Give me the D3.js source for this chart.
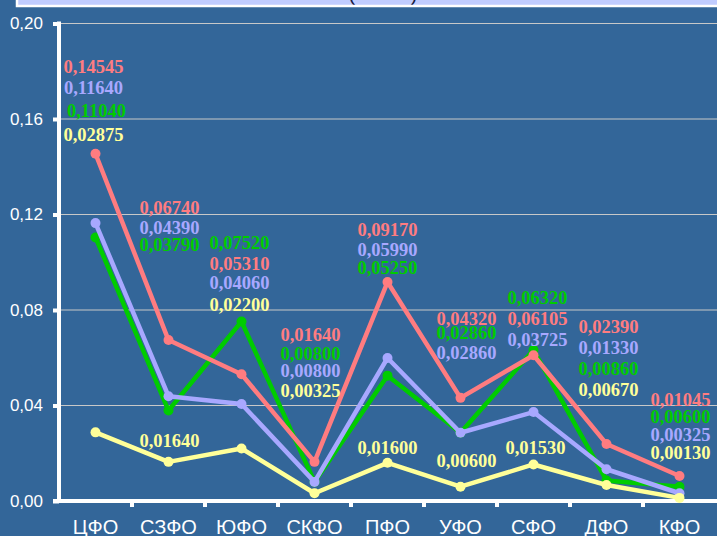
<!DOCTYPE html>
<html>
<head>
<meta charset="utf-8">
<script src="https://cdn.jsdelivr.net/npm/d3@7"></script>
<style>
  html, body { margin: 0; padding: 0; background: #336699; }
  svg { display: block; }
</style>
</head>
<body>
<svg id="chart" width="717" height="536"></svg>
<script>
// Federal districts
const categories = ["ЦФО", "СЗФО", "ЮФО", "СКФО", "ПФО", "УФО", "СФО", "ДФО", "КФО"];

// Series values
const redValues      = [0.14545, 0.06740, 0.05310, 0.01640, 0.09170, 0.04320, 0.06105, 0.02390, 0.01045];
const lavenderValues = [0.11640, 0.04390, 0.04060, 0.00800, 0.05990, 0.02860, 0.03725, 0.01330, 0.00325];
const greenValues    = [0.11040, 0.03790, 0.07520, 0.00800, 0.05250, 0.02860, 0.06320, 0.00860, 0.00600];
const yellowValues   = [0.02875, 0.01640, 0.02200, 0.00325, 0.01600, 0.00600, 0.01530, 0.00670, 0.00130];

// Y axis ticks
const yTicks = [0, 0.04, 0.08, 0.12, 0.16, 0.20];

// Value label placement: [horizontal shift from point, vertical centre in px]
const redLabelPos      = [[-2, 67], [1, 208], [-2, 264], [-4, 335], [0, 230], [6, 319], [4, 319], [2, 327], [1, 400]];
const lavenderLabelPos = [[-2, 88], [1, 228], [-2, 283], [-4, 371], [0, 250], [6, 353], [4, 340], [2, 348], [1, 435]];
const greenLabelPos    = [[1, 111], [1, 245], [-2, 243], [-4, 354], [0, 268], [6, 333], [4, 298], [2, 369], [1, 417]];
const yellowLabelPos   = [[-2, 135], [1, 441], [-2, 305], [-4, 391], [0, 448], [6, 461], [2, 448], [2, 390], [1, 453]];

const series = [
  { values: greenValues,    color: "#00cc00", pos: greenLabelPos },
  { values: redValues,      color: "#ff7c80", pos: redLabelPos },
  { values: lavenderValues, color: "#a8a8ff", pos: lavenderLabelPos },
  { values: yellowValues,   color: "#ffff99", pos: yellowLabelPos }
];

const svg = d3.select("#chart");
const W = 717, H = 536;
const plotLeft = 59, plotRight = 716, plotTop = 23.5, plotBottom = 501;

const fmt = v => d3.format(".5f")(v).replace(".", ",");
const fmtTick = v => d3.format(".2f")(v).replace(".", ",");

// Title box at the top edge
svg.append("rect")
  .attr("x", 17).attr("y", -10).attr("width", W).attr("height", 16)
  .attr("fill", "#c0ccff").attr("stroke", "#ffffff").attr("stroke-width", 2.5);
svg.append("clipPath").attr("id", "titleClip")
  .append("rect").attr("x", 17).attr("y", 0).attr("width", W).attr("height", 4.8);
svg.append("text")
  .attr("clip-path", "url(#titleClip)")
  .attr("x", 383).attr("y", 0.5)
  .attr("text-anchor", "middle")
  .attr("font-family", "Liberation Sans, Arial, sans-serif")
  .attr("font-size", 20)
  .attr("fill", "#1a1a40")
  .attr("xml:space", "preserve")
  .text("(          )");

const x = d3.scaleBand().domain(categories).range([plotLeft, plotRight]).padding(0);
const y = d3.scaleLinear().domain([0, 0.20]).range([plotBottom, plotTop]);
const cx = c => x(c) + x.bandwidth() / 2;

// Horizontal gridlines
svg.append("g")
  .selectAll("line")
  .data(yTicks.filter(t => t > 0))
  .join("line")
  .attr("x1", plotLeft).attr("x2", W)
  .attr("y1", d => y(d)).attr("y2", d => y(d))
  .attr("stroke", "#c8c8c8").attr("stroke-width", 1.2);

// Y axis
const yAxis = svg.append("g")
  .attr("transform", `translate(${plotLeft},0)`)
  .call(d3.axisLeft(y).tickValues(yTicks).tickFormat(fmtTick).tickSize(6).tickPadding(10));
yAxis.select(".domain").attr("stroke", "#ffffff").attr("stroke-width", 4)
  .attr("d", `M0,${plotTop - 2}V${plotBottom + 2}`);
yAxis.selectAll(".tick line").attr("stroke", "#ffffff").attr("stroke-width", 4);
yAxis.selectAll(".tick text")
  .attr("fill", "#ffffff")
  .attr("font-family", "Liberation Sans, Arial, sans-serif")
  .attr("font-size", 17);

// X axis
const xAxis = svg.append("g")
  .attr("transform", `translate(0,${plotBottom})`)
  .call(d3.axisBottom(x).tickSize(0).tickPadding(19));
xAxis.select(".domain").attr("stroke", "#ffffff").attr("stroke-width", 4)
  .attr("d", `M${plotLeft - 6},0H${W}`);
xAxis.selectAll(".tick text")
  .attr("fill", "#ffffff")
  .attr("font-family", "Liberation Sans, Arial, sans-serif")
  .attr("font-size", 20);
// Tick marks at band boundaries
svg.append("g")
  .selectAll("line")
  .data(categories.slice(1))
  .join("line")
  .attr("x1", d => x(d)).attr("x2", d => x(d))
  .attr("y1", plotBottom).attr("y2", plotBottom + 6)
  .attr("stroke", "#ffffff").attr("stroke-width", 4);

// Lines and markers
const line = d3.line().x((d, i) => cx(categories[i])).y(d => y(d));
series.forEach(s => {
  svg.append("path")
    .datum(s.values)
    .attr("d", line)
    .attr("fill", "none")
    .attr("stroke", s.color)
    .attr("stroke-width", 4.5)
    .attr("stroke-linejoin", "round");
  svg.append("g")
    .selectAll("circle")
    .data(s.values)
    .join("circle")
    .attr("cx", (d, i) => cx(categories[i]))
    .attr("cy", d => y(d))
    .attr("r", 5)
    .attr("fill", s.color);
});

// Value labels
series.forEach(s => {
  svg.append("g")
    .selectAll("text")
    .data(s.values)
    .join("text")
    .attr("x", (d, i) => cx(categories[i]) + s.pos[i][0])
    .attr("y", (d, i) => s.pos[i][1])
    .attr("dy", "0.35em")
    .attr("text-anchor", "middle")
    .attr("font-family", "Liberation Serif, Times New Roman, serif")
    .attr("font-weight", "bold")
    .attr("font-size", 18.5)
    .attr("fill", s.color)
    .text(d => fmt(d));
});
</script>
</body>
</html>
